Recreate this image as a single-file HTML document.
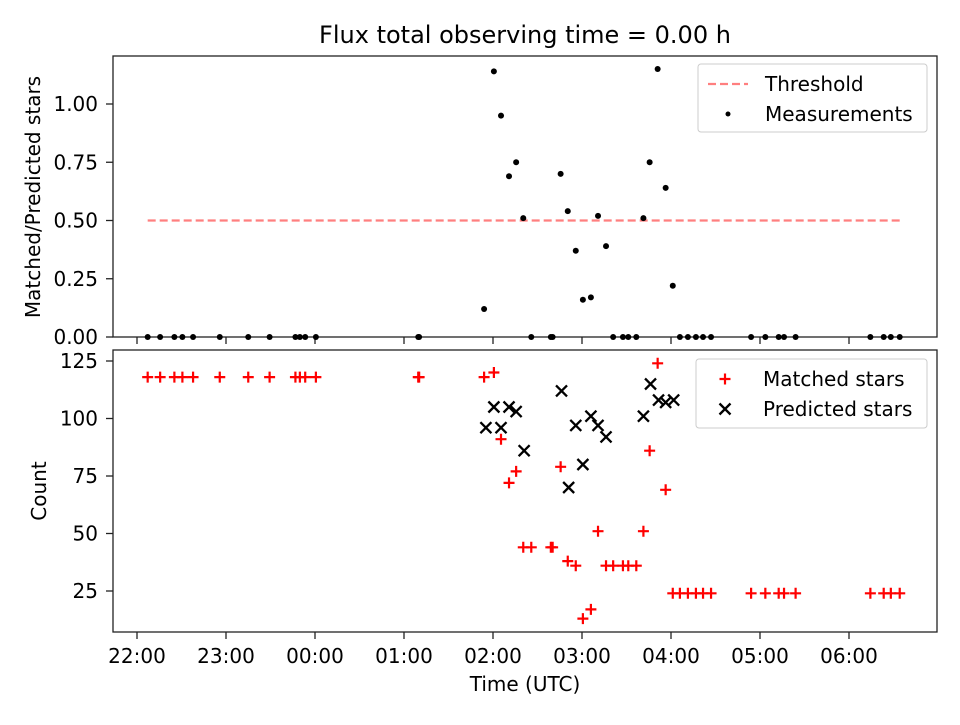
<!DOCTYPE html>
<html><head><meta charset="utf-8"><style>
body{margin:0;background:#fff;font-family:"Liberation Sans","DejaVu Sans",sans-serif}
svg text{font-family:"DejaVu Sans","Liberation Sans",sans-serif;fill:#000}
</style></head><body>
<svg id="c" width="960" height="720" viewBox="0 0 960 720" xmlns="http://www.w3.org/2000/svg"></svg>
<script>
// hours since 22:00 UTC
const matchedTimes=[0.12,0.26,0.42,0.51,0.63,0.93,1.25,1.49,1.78,1.83,1.89,2.01,3.16,3.17,3.90,4.01,4.09,4.18,4.26,4.34,4.43,4.65,4.67,4.76,4.84,4.93,5.01,5.10,5.18,5.27,5.35,5.46,5.52,5.61,5.69,5.76,5.85,5.94,6.02,6.10,6.19,6.28,6.36,6.45,6.90,7.06,7.21,7.27,7.40,8.24,8.39,8.47,8.57];
const matchedValues=[118,118,118,118,118,118,118,118,118,118,118,118,118,118,118,120,91,72,77,44,44,44,44,79,38,36,13,17,51,36,36,36,36,36,51,86,124,69,24,24,24,24,24,24,24,24,24,24,24,24,24,24,24];
const ratioValues=[0,0,0,0,0,0,0,0,0,0,0,0,0,0,0.12,1.14,0.95,0.69,0.75,0.51,0,0,0,0.70,0.54,0.37,0.16,0.17,0.52,0.39,0,0,0,0,0.51,0.75,1.15,0.64,0.22,0,0,0,0,0,0,0,0,0,0,0,0,0,0];
const predictedTimes=[3.92,4.01,4.09,4.18,4.26,4.35,4.77,4.85,4.93,5.01,5.10,5.18,5.27,5.69,5.77,5.86,5.94,6.03];
const predictedValues=[96,105,96,105,103,86,112,70,97,80,101,97,92,101,115,108,107,108];
const thresholdValue=0.5, thresholdRange=[0.12,8.57];
const xTickLabels=["22:00","23:00","00:00","01:00","02:00","03:00","04:00","05:00","06:00"];
const topTicks=[0,0.25,0.5,0.75,1.0];
const botTicks=[25,50,75,100,125];

const svg=document.getElementById('c');const NS="http://www.w3.org/2000/svg";
function el(t,a,p){const e=document.createElementNS(NS,t);for(const k in a)e.setAttribute(k,a[k]);(p||svg).appendChild(e);return e;}
const L=113,R=937,FS=20;
const X=h=>137+h*89;
const topY=v=>337-v*233;
const botY=v=>591-(v-25)*2.3;
const f1=el('rect',{x:L,y:56,width:R-L,height:281,fill:'none',stroke:'#222','stroke-width':1.3});


const f2=el('rect',{x:L,y:350,width:R-L,height:282,fill:'none',stroke:'#222','stroke-width':1.3});


xTickLabels.forEach((s,i)=>{const x=X(i);
 el('line',{x1:x,x2:x,y1:337,y2:344,stroke:'#222','stroke-width':1.3});
 el('line',{x1:x,x2:x,y1:632,y2:639,stroke:'#222','stroke-width':1.3});
 const t=el('text',{x:x,y:663,'text-anchor':'middle','font-size':FS});t.textContent=s;
 
 
});
topTicks.forEach(v=>{const y=topY(v);el('line',{x1:L-7,x2:L,y1:y,y2:y,stroke:'#222','stroke-width':1.3});
 const t=el('text',{x:L-15,y:y+7,'text-anchor':'end','font-size':FS});t.textContent=v.toFixed(2);
 
 });
botTicks.forEach(v=>{const y=botY(v);el('line',{x1:L-7,x2:L,y1:y,y2:y,stroke:'#222','stroke-width':1.3});
 const t=el('text',{x:L-15,y:y+7,'text-anchor':'end','font-size':FS});t.textContent=v;
 
 });
let t=el('text',{x:525,y:43,'text-anchor':'middle','font-size':24});t.textContent='Flux total observing time = 0.00 h';


t=el('text',{x:525,y:691,'text-anchor':'middle','font-size':FS});t.textContent='Time (UTC)';


t=el('text',{x:40,y:197,'text-anchor':'middle','font-size':FS,transform:'rotate(-90 40 197)'});t.textContent='Matched/Predicted stars';


t=el('text',{x:46,y:491,'text-anchor':'middle','font-size':FS,transform:'rotate(-90 46 491)'});t.textContent='Count';


const th=el('line',{x1:X(thresholdRange[0]),x2:X(thresholdRange[1]),y1:topY(thresholdValue),y2:topY(thresholdValue),stroke:'#ff7f7f','stroke-width':2.2,'stroke-dasharray':'8 4'});


matchedTimes.forEach((h,i)=>{const c=el('circle',{cx:X(h),cy:topY(ratioValues[i]),r:3,fill:'#000'});
 
 });
function plus(x,y,col){return el('path',{d:`M${x-5.5},${y}H${x+5.5}M${x},${y-5.5}V${y+5.5}`,stroke:col,'stroke-width':2.2});}
function cross(x,y){return el('path',{d:`M${x-5.5},${y-5.5}L${x+5.5},${y+5.5}M${x-5.5},${y+5.5}L${x+5.5},${y-5.5}`,stroke:'#000','stroke-width':2.3});}
matchedTimes.forEach((h,i)=>{const p=plus(X(h),botY(matchedValues[i]),'#f00');
 
 });
predictedTimes.forEach((h,i)=>{const p=cross(X(h),botY(predictedValues[i]));
 
 });
let lg=el('rect',{x:698,y:64,width:229,height:68,rx:3,fill:'#fff','fill-opacity':0.8,stroke:'#ccc'});


el('line',{x1:708,x2:748,y1:84,y2:84,stroke:'#ff7f7f','stroke-width':2.2,'stroke-dasharray':'8 4'});
t=el('text',{x:765,y:91,'font-size':FS});t.textContent='Threshold';


el('circle',{cx:728,cy:114,r:2.5,fill:'#000'});
t=el('text',{x:765,y:121,'font-size':FS});t.textContent='Measurements';


lg=el('rect',{x:696,y:359,width:231,height:69,rx:3,fill:'#fff','fill-opacity':0.8,stroke:'#ccc'});


plus(725,379,'#f00');
t=el('text',{x:763,y:386,'font-size':FS});t.textContent='Matched stars';


cross(725,409);
t=el('text',{x:763,y:416,'font-size':FS});t.textContent='Predicted stars';


</script>
</body></html>
